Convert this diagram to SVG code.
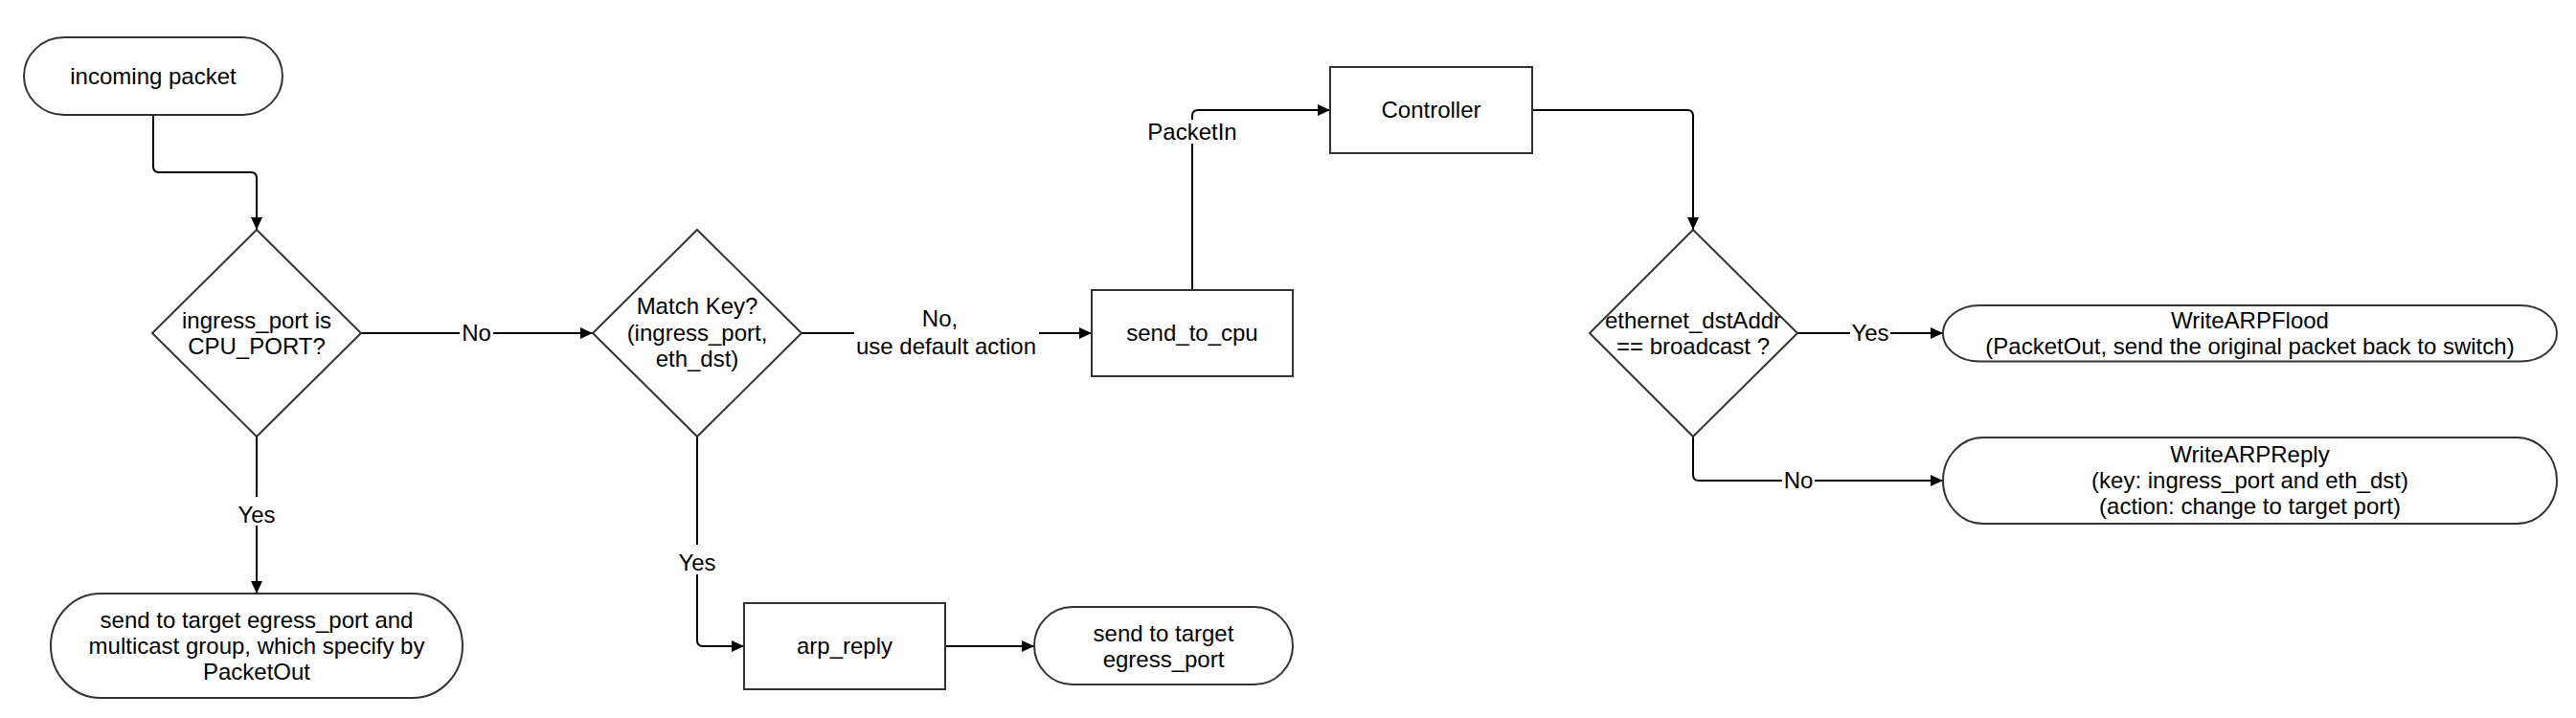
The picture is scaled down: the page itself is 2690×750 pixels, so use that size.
<svg xmlns="http://www.w3.org/2000/svg" width="2690" height="750" viewBox="0 0 2690 750">
<style>
.shape{fill:#fff;stroke:#333;stroke-width:2}
.conn{fill:none;stroke:#000;stroke-width:2}
text{font-family:"Liberation Sans",Arial,sans-serif;font-size:24px;fill:#000;text-anchor:middle}
.lbg{fill:#fff;stroke:none}
</style>
<defs>
<marker id="arr" markerUnits="userSpaceOnUse" markerWidth="14" markerHeight="12" refX="13" refY="6" orient="auto">
<path d="M0,0 L13,6 L0,12 z" fill="#000"/>
</marker>
</defs>
<rect width="2690" height="750" fill="#fff"/>

<g id="connectors">
<path class="conn" d="M160,120 V174 Q160,180 166,180 H262 Q268,180 268,186 V240" marker-end="url(#arr)"/>
<path class="conn" d="M377,348 H619" marker-end="url(#arr)"/>
<path class="conn" d="M268,456 V620" marker-end="url(#arr)"/>
<path class="conn" d="M837,348 H1140" marker-end="url(#arr)"/>
<path class="conn" d="M728,456 V669 Q728,675 734,675 H777" marker-end="url(#arr)"/>
<path class="conn" d="M987,675 H1080" marker-end="url(#arr)"/>
<path class="conn" d="M1245,303 V121 Q1245,115 1251,115 H1389" marker-end="url(#arr)"/>
<path class="conn" d="M1600,115 H1762 Q1768,115 1768,121 V240" marker-end="url(#arr)"/>
<path class="conn" d="M1877,348 H2029" marker-end="url(#arr)"/>
<path class="conn" d="M1768,456 V496 Q1768,502 1774,502 H2029" marker-end="url(#arr)"/>
<g id="labels">
<rect class="lbg" x="480" y="334" width="35" height="28"/>
<text x="497.5" y="356">No</text>
<rect class="lbg" x="247" y="519" width="42" height="30"/>
<text x="268" y="546">Yes</text>
<rect class="lbg" x="892" y="318" width="193" height="58"/>
<text x="981.5" y="341">No,</text>
<text x="988" y="370">use default action</text>
<rect class="lbg" x="707" y="569" width="42" height="31"/>
<text x="728" y="596">Yes</text>
<rect class="lbg" x="1197" y="125" width="96" height="25"/>
<text x="1245" y="146">PacketIn</text>
<rect class="lbg" x="1932" y="334" width="42" height="28"/>
<text x="1953" y="356">Yes</text>
<rect class="lbg" x="1861" y="488" width="34" height="28"/>
<text x="1878" y="510">No</text>
</g>
</g>

<g id="incoming_packet">
<rect class="shape" x="25" y="39" width="270" height="81" rx="42" ry="40.5"/>
<text x="160" y="88">incoming packet</text>
</g>

<g id="is_cpu_port">
<polygon class="shape" points="268,240 377,348 268,456 159,348"/>
<text x="268" y="343">ingress_port is</text>
<text x="268" y="370">CPU_PORT?</text>
</g>

<g id="send_to_egress_multicast">
<rect class="shape" x="53" y="620" width="430" height="109" rx="52" ry="54.5"/>
<text x="268" y="656">send to target egress_port and</text>
<text x="268" y="683">multicast group, which specify by</text>
<text x="268" y="710">PacketOut</text>
</g>

<g id="match_key">
<polygon class="shape" points="728,240 837,348 728,456 619,348"/>
<text x="728" y="328">Match Key?</text>
<text x="728" y="356">(ingress_port,</text>
<text x="728" y="383">eth_dst)</text>
</g>

<g id="send_to_cpu">
<rect class="shape" x="1140" y="303" width="210" height="90"/>
<text x="1245" y="356">send_to_cpu</text>
</g>

<g id="arp_reply">
<rect class="shape" x="777" y="630" width="210" height="90"/>
<text x="882" y="683">arp_reply</text>
</g>

<g id="send_to_egress">
<rect class="shape" x="1080" y="634" width="270" height="81" rx="40" ry="40.5"/>
<text x="1215" y="670">send to target</text>
<text x="1215" y="697">egress_port</text>
</g>

<g id="controller">
<rect class="shape" x="1389" y="70" width="211" height="90"/>
<text x="1494.5" y="123">Controller</text>
</g>

<g id="is_broadcast">
<polygon class="shape" points="1768,240 1877,348 1768,456 1660,348"/>
<text x="1768" y="343">ethernet_dstAddr</text>
<text x="1768" y="370">== broadcast ?</text>
</g>

<g id="write_arp_flood">
<rect class="shape" x="2029" y="319" width="641" height="58.5" rx="38" ry="29.25"/>
<text x="2349.5" y="343">WriteARPFlood</text>
<text x="2349.5" y="370">(PacketOut, send the original packet back to switch)</text>
</g>

<g id="write_arp_reply">
<rect class="shape" x="2029" y="457" width="641" height="90" rx="42" ry="45"/>
<text x="2349.5" y="483">WriteARPReply</text>
<text x="2349.5" y="510">(key: ingress_port and eth_dst)</text>
<text x="2349.5" y="537">(action: change to target port)</text>
</g>
</svg>
